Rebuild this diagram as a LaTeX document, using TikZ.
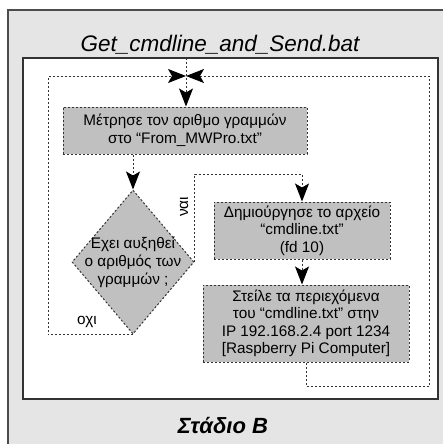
\documentclass[tikz,border=0pt]{standalone}
\usepackage{fontspec}
\setmainfont{Liberation Sans}
\usetikzlibrary{arrows.meta,shapes.geometric}
\definecolor{outerbg}{HTML}{E5E5E5}
\definecolor{boxbg}{HTML}{C0C0C0}
\definecolor{edge}{HTML}{333333}
\begin{document}
\begin{tikzpicture}[x=1pt,y=-1pt,
  flow/.style={draw=edge, line width=1pt, dash pattern=on 2pt off 2pt},
  tip/.style={-{Stealth[length=18pt,width=14pt,inset=4pt,black]}},
  stepbox/.style={draw=edge, line width=1pt, dash pattern=on 2pt off 2pt, fill=boxbg, align=center, inner sep=0pt,
     font=\fontsize{15.3}{17.5}\selectfont},
  lbl/.style={font=\fontsize{15.3}{18}\selectfont, inner sep=0pt}]
\useasboundingbox (0,0) rectangle (442,444);
\fill[outerbg] (8,10) rectangle (450,450);
\draw[draw=black!70, line width=1.2pt] (8,450) -- (8,10) -- (450,10);
\draw[draw=black!80, line width=1.2pt, fill=white] (23,58) rectangle (438,399);
\node[font=\fontsize{22.5}{26}\selectfont\itshape, inner sep=0pt] (title) at (220,45) {Get\_cmdline\_and\_Send.bat};
\node[font=\fontsize{22}{24}\selectfont\bfseries\itshape, inner sep=0pt] (stage) at (223,426) {Στάδιο Β};

\node[stepbox, minimum width=244pt, minimum height=47pt] (b1) at (185,130.5) {Μέτρησε τον αριθμο γραμμών\\στο “From\_MWPro.txt”};
\node[diamond, draw=edge, line width=1pt, dash pattern=on 2pt off 2pt, fill=boxbg, inner sep=0pt, minimum width=122pt, minimum height=144pt] (dia) at (133,262) {};
\node[lbl, align=center] (diatext) at (dia.center) {Εχει αυξηθεί\\ο αριθμός των\\γραμμών ;};
\node[stepbox, minimum width=176pt, minimum height=57pt] (b2) at (302,230.5) {Δημιούργησε το αρχείο\\“cmdline.txt”\\(fd 10)};
\node[stepbox, minimum width=206pt, minimum height=77pt] (b3) at (306,323.5) {Στείλε τα περιεχόμενα\\του “cmdline.txt” στην\\IP 192.168.2.4 port 1234\\{[Raspberry Pi Computer]}};

\coordinate (top) at (186,58);
\coordinate (m) at (186,76);
\coordinate (nl) at (48,76);
\coordinate (nr) at (429,76);
\coordinate (yc) at (302,174);
\coordinate (rb) at (306,386);

\draw[flow, tip] (top) -- (b1.north -| top);
\draw[flow, tip] (b1.south -| dia.north) -- (dia.north);
\draw[flow, tip] (dia.east) |- (yc) -- (yc |- b2.north);
\draw[flow, tip] (yc |- b2.south) -- (yc |- b3.north);
\draw[flow, tip] (dia.south) -| (nl) -- (m);
\draw[flow, tip] (b3.south -| rb) -- (rb) -| (nr) -- (m);

\node[lbl, rotate=90] (yes) at (184,207) {ναι};
\node[lbl] (no) at (87,322) {οχι};
\end{tikzpicture}
\end{document}
